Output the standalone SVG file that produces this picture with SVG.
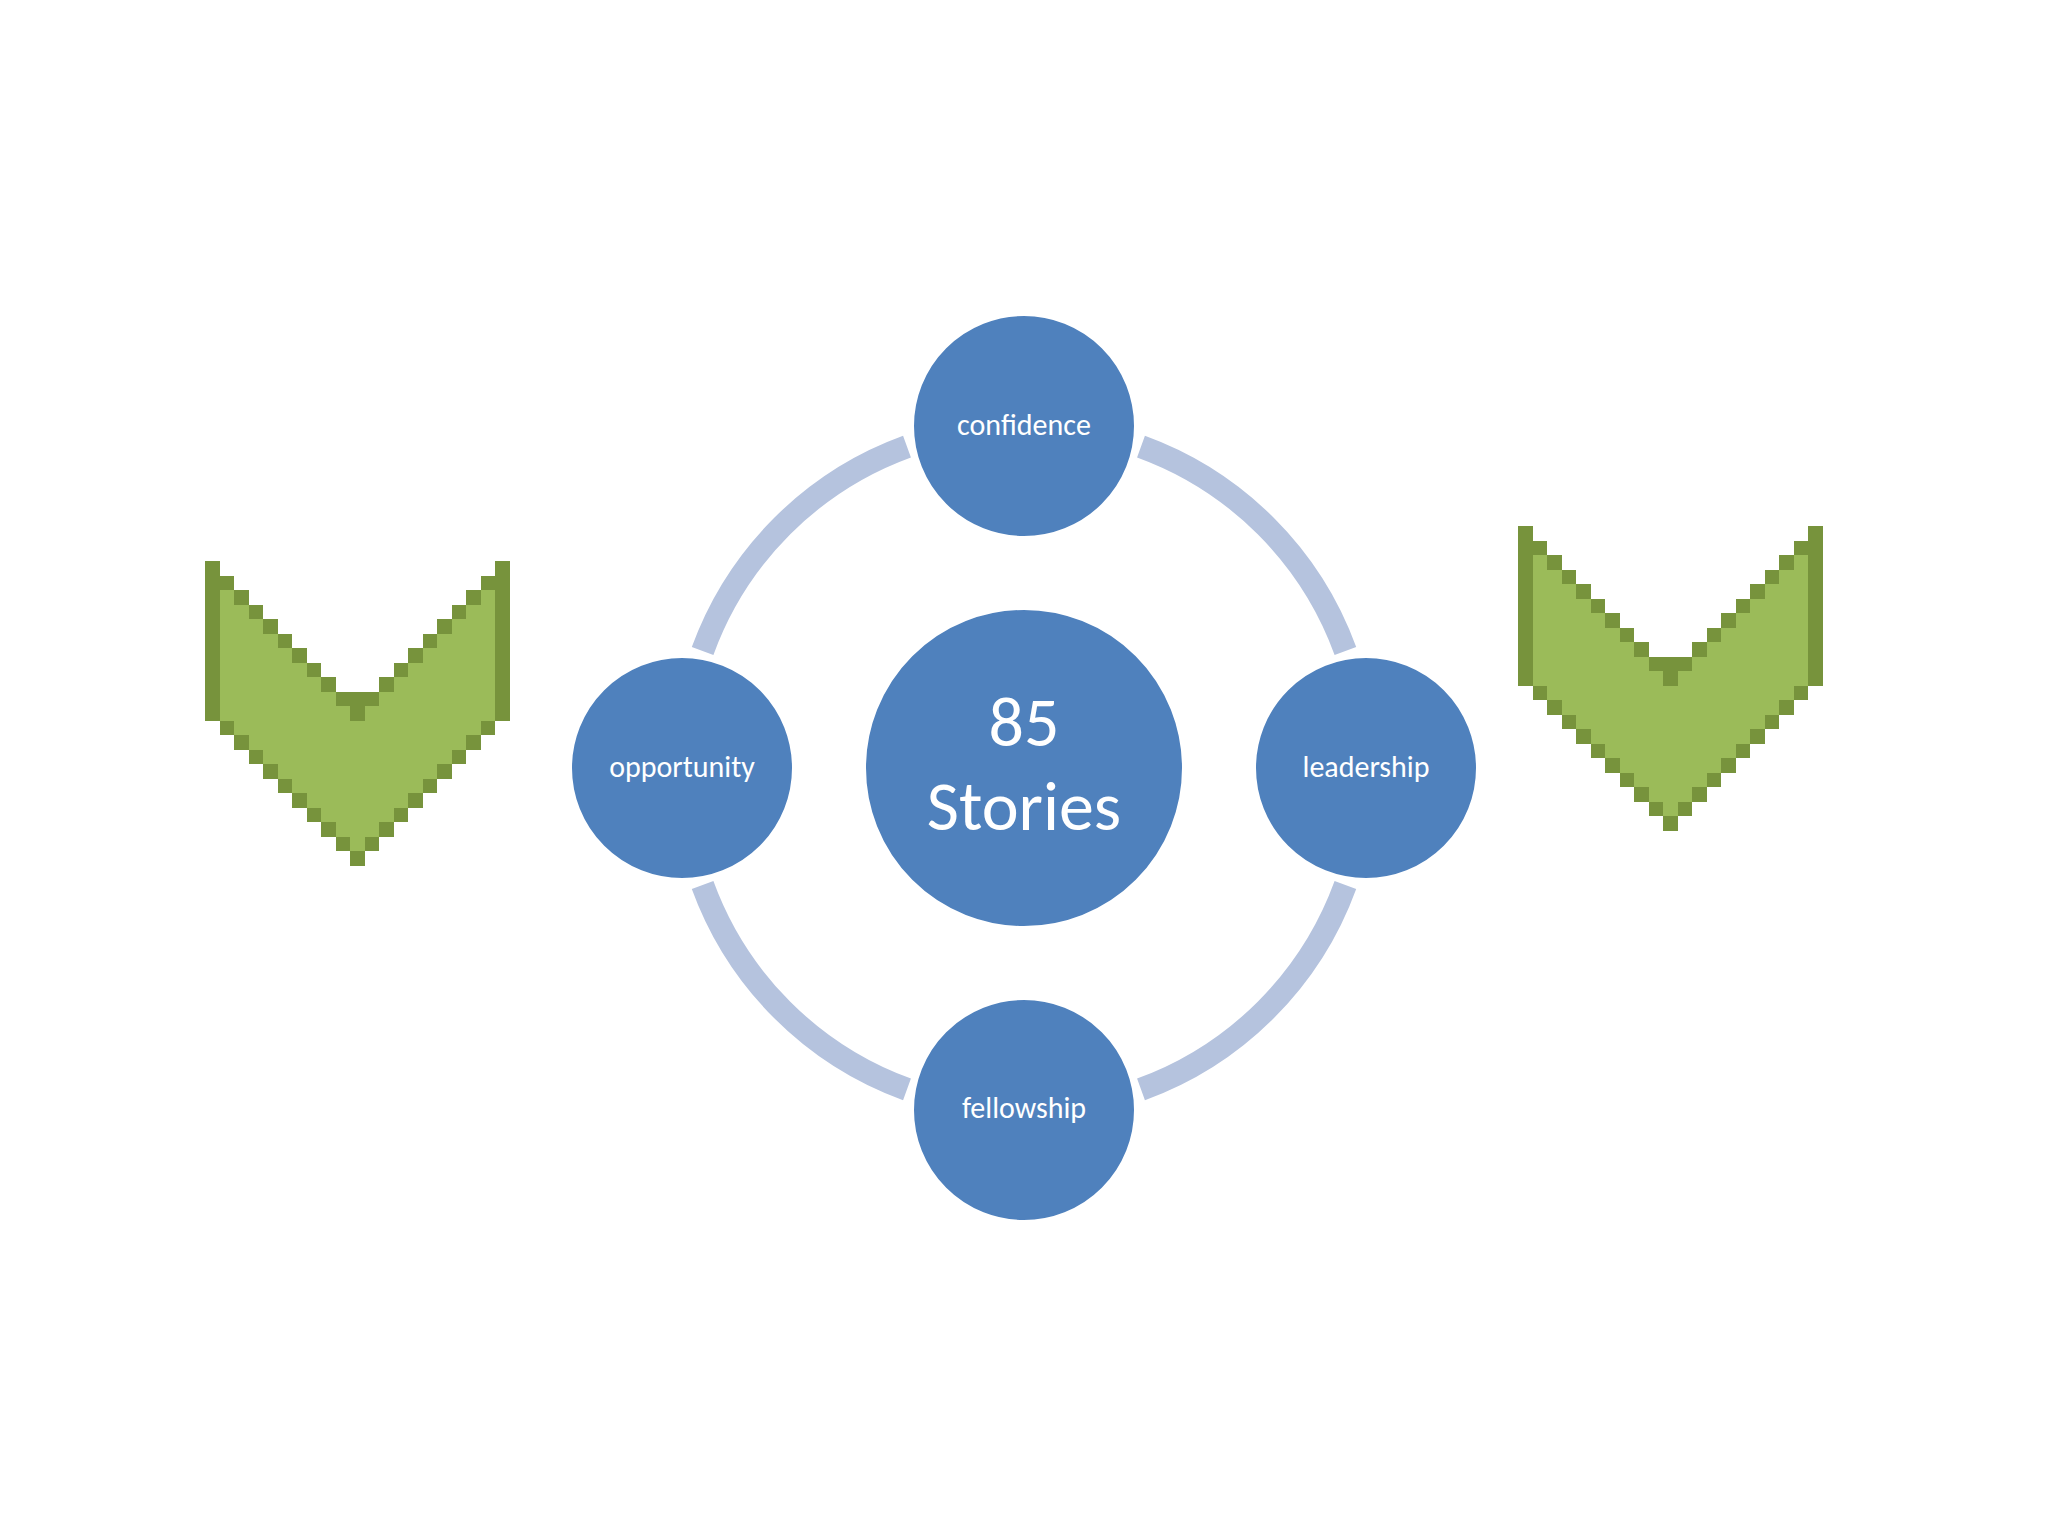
<svg xmlns="http://www.w3.org/2000/svg" width="2048" height="1536" viewBox="0 0 2048 1536">
<style>
.node{fill:#4F81BD;stroke:#FFFFFF;stroke-width:6}
.lbl{fill:#FFFFFF;font-family:Carlito,Lato,"Open Sans",sans-serif;font-size:30px;text-anchor:middle}
.big{fill:#FFFFFF;font-family:Carlito,Lato,"Open Sans",sans-serif;font-size:70px;text-anchor:middle}
.ring{fill:none;stroke:#B5C3DE;stroke-width:23;stroke-linecap:butt}
.dk{fill:#77933C}
.lt{fill:#9BBB59}
</style>
<defs>
<g id="chev" shape-rendering="crispEdges">
<polygon class="dk" points="0,0 1,0 1,1 2,1 2,2 3,2 3,3 4,3 4,4 5,4 5,5 6,5 6,6 7,6 7,7 8,7 8,8 9,8 9,9 12,9 12,8 13,8 13,7 14,7 14,6 15,6 15,5 16,5 16,4 17,4 17,3 18,3 18,2 19,2 19,1 20,1 20,0 21,0 21,11 20,11 20,12 19,12 19,13 18,13 18,14 17,14 17,15 16,15 16,16 15,16 15,17 14,17 14,18 13,18 13,19 12,19 12,20 11,20 11,21 10,21 10,20 9,20 9,19 8,19 8,18 7,18 7,17 6,17 6,16 5,16 5,15 4,15 4,14 3,14 3,13 2,13 2,12 1,12 1,11 0,11"/>
<polygon class="lt" points="1,2 2,2 2,3 3,3 3,4 4,4 4,5 5,5 5,6 6,6 6,7 7,7 7,8 8,8 8,9 13,9 13,8 14,8 14,7 15,7 15,6 16,6 16,5 17,5 17,4 18,4 18,3 19,3 19,2 20,2 20,11 19,11 19,12 18,12 18,13 17,13 17,14 16,14 16,15 15,15 15,16 14,16 14,17 13,17 13,18 12,18 12,19 11,19 11,20 10,20 10,19 9,19 9,18 8,18 8,17 7,17 7,16 6,16 6,15 5,15 5,14 4,14 4,13 3,13 3,12 2,12 2,11 1,11"/>
<rect class="dk" x="9" y="9" width="3" height="1"/>
<rect class="dk" x="10" y="10" width="1" height="1"/>
</g>
</defs>
<rect x="0" y="0" width="2048" height="1536" fill="#FFFFFF"/>
<g id="chevron-left" transform="translate(205,561) scale(14.52)"><use href="#chev"/></g>
<g id="chevron-right" transform="translate(1518,526) scale(14.52)"><use href="#chev"/></g>
<g id="connectors">
<path class="ring" d="M1141,446.6 A342,342 0 0 1 1345.4,651"/>
<path class="ring" d="M1345.4,885 A342,342 0 0 1 1141,1089.4"/>
<path class="ring" d="M907,1089.4 A342,342 0 0 1 702.6,885"/>
<path class="ring" d="M702.6,651 A342,342 0 0 1 907,446.6"/>
</g>
<g id="center">
<circle class="node" cx="1024" cy="768" r="161"/>
<text class="big" x="1024" y="746">85</text>
<text class="big" x="1024" y="830">Stories</text>
</g>
<g id="confidence">
<circle class="node" cx="1024" cy="426" r="113"/>
<text class="lbl" x="1024" y="435">confidence</text>
</g>
<g id="leadership">
<circle class="node" cx="1366" cy="768" r="113"/>
<text class="lbl" x="1366" y="777">leadership</text>
</g>
<g id="fellowship">
<circle class="node" cx="1024" cy="1110" r="113"/>
<text class="lbl" x="1024" y="1118">fellowship</text>
</g>
<g id="opportunity">
<circle class="node" cx="682" cy="768" r="113"/>
<text class="lbl" x="682" y="777">opportunity</text>
</g>
</svg>
